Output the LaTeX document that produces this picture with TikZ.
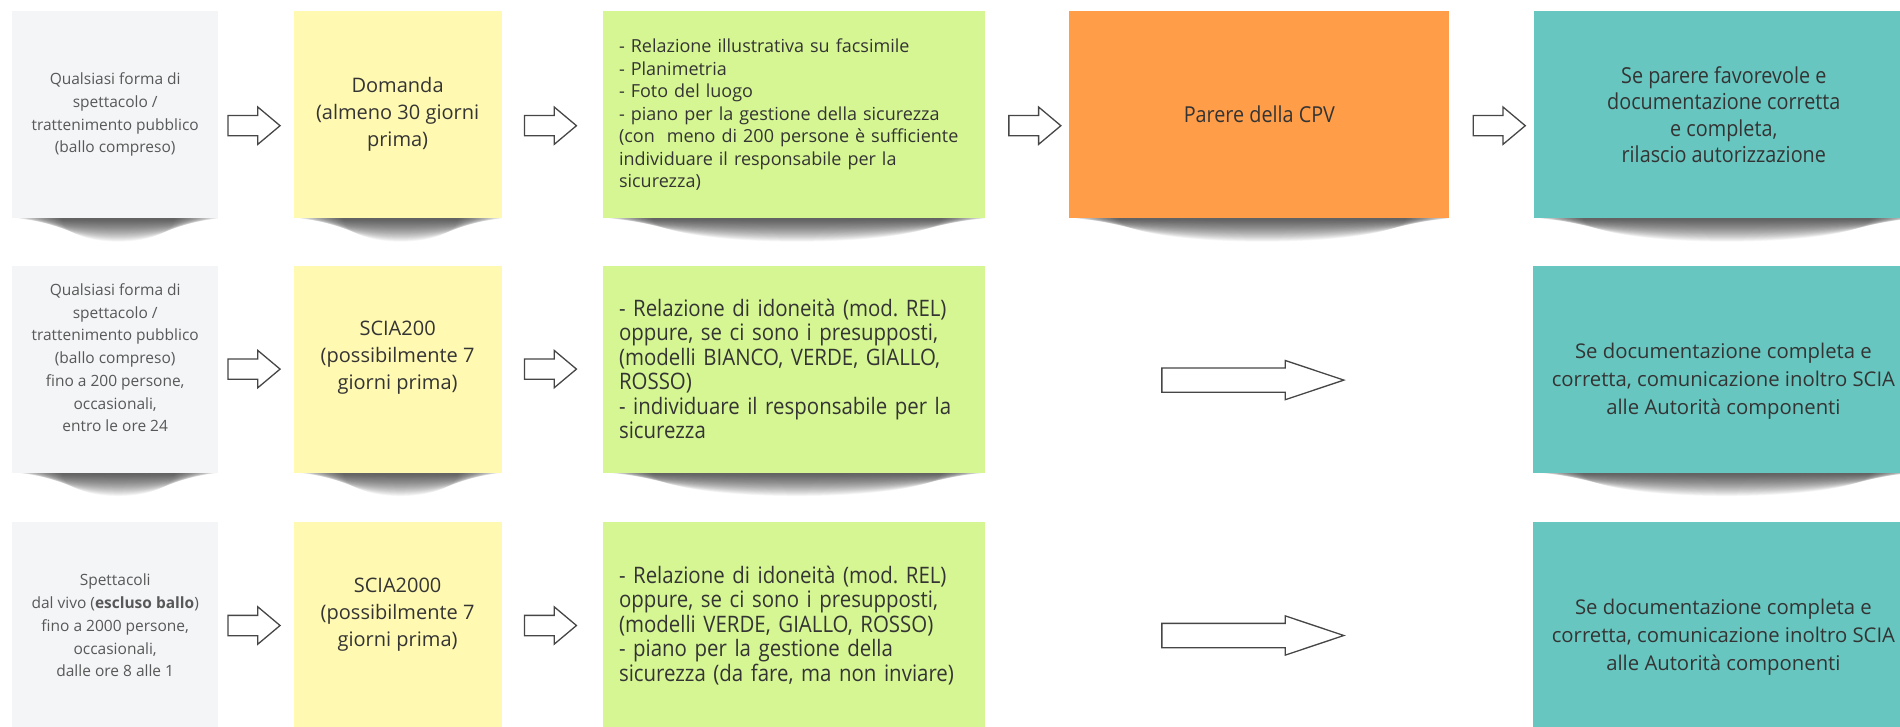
\documentclass[tikz,border=0pt]{standalone}
\usepackage{fontspec}
\setmainfont{Open Sans}
\newfontfamily\narrowfont{Open Sans}[FakeStretch=0.9]
\usetikzlibrary{positioning,shapes.arrows,backgrounds,calc}
\frenchspacing

\definecolor{notegray}{RGB}{244,245,247}
\definecolor{noteyellow}{RGB}{255,249,177}
\definecolor{notegreen}{RGB}{213,246,146}
\definecolor{noteorange}{RGB}{255,157,72}
\definecolor{noteteal}{RGB}{103,198,192}
\definecolor{inkgray}{RGB}{52,52,52}
\definecolor{softink}{RGB}{88,88,88}
\definecolor{arrowink}{RGB}{70,70,70}

\begin{document}
\begin{tikzpicture}[
  x=1pt,y=1pt,
  note/.style={minimum height=207pt,inner sep=0pt,align=center,text=inkgray},
  plain/.style={note,fill=notegray,minimum width=206pt,text=softink,font=\fontsize{15.5}{22.7}\selectfont},
  request/.style={note,fill=noteyellow,minimum width=208pt,font=\fontsize{20}{27}\selectfont},
  docs/.style={note,fill=notegreen,minimum width=382pt,text width=350pt,inner xsep=16pt,align=left,font=\fontsize{18}{22.5}\selectfont},
  docsnarrow/.style={docs,font=\narrowfont\fontsize{22.7}{24.5}\selectfont},
  opinion/.style={note,fill=noteorange,minimum width=380pt,font=\narrowfont\fontsize{22}{26.5}\selectfont},
  outcome/.style={note,fill=noteteal,minimum width=380pt,font=\fontsize{20.3}{28}\selectfont},
  outcomenarrow/.style={outcome,font=\narrowfont\fontsize{22}{26.5}\selectfont},
  hop/.style={single arrow,draw=arrowink,fill=white,line width=1.3pt,inner xsep=0pt,inner ysep=9.5pt,
    minimum height=52pt,single arrow head extend=8.5pt,single arrow tip angle=80,single arrow head indent=0pt},
  leap/.style={hop,inner ysep=11.5pt,minimum height=182pt,single arrow head extend=7.5pt,single arrow tip angle=37},
  noteshadow/.style={fill=black,fill opacity=0.03}
]
\useasboundingbox (0,0) rectangle (1900,-727);

% ===== Row 1: Domanda =====
\node[plain,anchor=north west] (g1) at (12,-11) {Qualsiasi forma di\\spettacolo /\\trattenimento pubblico\\(ballo compreso)};
\node[request,right=75pt of g1] (y1) {Domanda\\(almeno 30 giorni\\prima)};
\node[docs,right=101pt of y1] (gr1) {- Relazione illustrativa su facsimile\\- Planimetria\\- Foto del luogo\\- piano per la gestione della sicurezza\\(con\ \ meno di 200 persone è sufficiente\\individuare il responsabile per la\\sicurezza)};
\node[opinion,right=84pt of gr1] (o1) {Parere della CPV};
\node[outcomenarrow,right=84pt of o1] (t1) {Se parere favorevole e\\documentazione corretta\\e completa,\\rilascio autorizzazione};

% ===== Row 2: SCIA200 =====
\node[plain,below=47pt of g1] (g2) {Qualsiasi forma di\\spettacolo /\\trattenimento pubblico\\(ballo compreso)\\fino a 200 persone,\\occasionali,\\entro le ore 24\\\mbox{}};
\node[request,right=75pt of g2] (y2) {SCIA200\\(possibilmente 7\\giorni prima)\\\mbox{}};
\node[docsnarrow,right=101pt of y2] (gr2) {- Relazione di idoneità (mod. REL)\\oppure, se ci sono i presupposti,\\(modelli BIANCO, VERDE, GIALLO,\\ROSSO)\\- individuare il responsabile per la\\sicurezza};
\node[outcome,right=548pt of gr2] (t2) {\mbox{}\\[11pt]Se documentazione completa e\\corretta, comunicazione inoltro SCIA\\alle Autorità componenti};

% ===== Row 3: SCIA2000 =====
\node[plain,below=49pt of g2] (g3) {Spettacoli\\dal vivo (\textbf{escluso ballo})\\fino a 2000 persone,\\occasionali,\\dalle ore 8 alle 1};
\node[request,right=75pt of g3] (y3) {SCIA2000\\(possibilmente 7\\giorni prima)\\\mbox{}};
\node[docsnarrow,right=101pt of y3] (gr3) {- Relazione di idoneità (mod. REL)\\oppure, se ci sono i presupposti,\\(modelli VERDE, GIALLO, ROSSO)\\- piano per la gestione della\\sicurezza (da fare, ma non inviare)};
\node[outcome,right=548pt of gr3] (t3) {\mbox{}\\[11pt]Se documentazione completa e\\corretta, comunicazione inoltro SCIA\\alle Autorità componenti};

% ===== Arrows =====
\node[hop,right=9pt of g1,yshift=-11pt] (a11) {};
\node[hop,right=22pt of y1,yshift=-11pt] (a12) {};
\node[hop,right=23pt of gr1,yshift=-11pt] (a13) {};
\node[hop,right=23pt of o1,yshift=-11pt] (a14) {};
\node[hop,right=9pt of g2] (a21) {};
\node[hop,right=22pt of y2] (a22) {};
\node[leap,right=176pt of gr2,yshift=-11pt] (a23) {};
\node[hop,right=9pt of g3] (a31) {};
\node[hop,right=22pt of y3] (a32) {};
\node[leap,right=176pt of gr3,yshift=-10pt] (a33) {};

% ===== Shadows =====
\begin{scope}[on background layer]
  \foreach \notename in {g1,y1,gr1,o1,t1,g2,y2,gr2,t2}
    \foreach \k in {0,...,29}
      \fill[noteshadow] let \p1=($(\notename.south east)-(\notename.south west)$) in
        ($(\notename.south)+(3,0)$) ellipse [x radius={\x1/2-3pt-1.5pt*\k}, y radius={1.5pt+0.75pt*\k}];
\end{scope}

\end{tikzpicture}
\end{document}
